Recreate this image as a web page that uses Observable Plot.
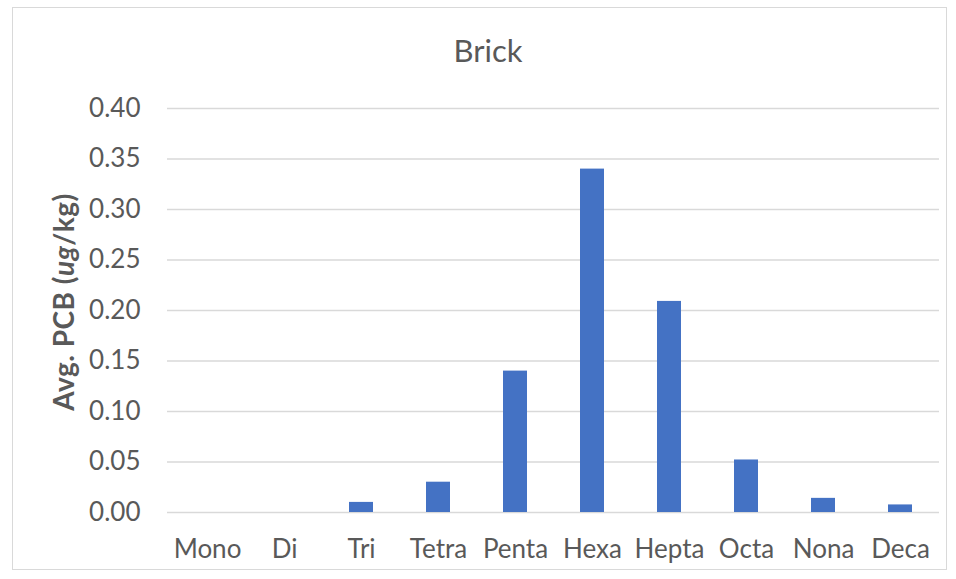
<!DOCTYPE html>
<html>
<head>
<meta charset="utf-8">
<script src="https://cdn.jsdelivr.net/npm/d3@7"></script>
<script src="https://cdn.jsdelivr.net/npm/@observablehq/plot@0.6"></script>
<style>
  html, body { margin: 0; padding: 0; background: #fff; }
  #wrap { position: relative; width: 956px; height: 579px; overflow: hidden; font-family: Lato, "Open Sans", sans-serif; }
  #frame { position: absolute; left: 12px; top: 7px; width: 935px; height: 563px; border: 1.5px solid #d9d9d9; box-sizing: border-box; }
  #title { position: absolute; left: 10px; width: 956px; top: 31px; text-align: center; font-size: 31px; color: #595959; line-height: 38px; }
  #chart { position: absolute; left: 0; top: 0; }
</style>
</head>
<body>
<div id="wrap">
  <div id="frame"></div>
  <div id="chart"></div>
  <div id="title">Brick</div>
</div>
<script>
const categories = ["Mono", "Di", "Tri", "Tetra", "Penta", "Hexa", "Hepta", "Octa", "Nona", "Deca"];
const values = [0, 0, 0.010, 0.030, 0.140, 0.340, 0.209, 0.052, 0.014, 0.0075];
const yTicks = [0, 0.05, 0.10, 0.15, 0.20, 0.25, 0.30, 0.35, 0.40];

const data = categories.map((c, i) => ({category: c, value: values[i]}));

const chart = Plot.plot({
  width: 956,
  height: 579,
  marginLeft: 167,
  marginRight: 17,
  marginTop: 108,
  marginBottom: 67,
  style: {fontFamily: "Lato, 'Open Sans', sans-serif", fontSize: "26px", color: "#595959", background: "transparent"},
  x: {domain: categories, paddingInner: 0.69, paddingOuter: 0.345, label: null, tickSize: 0, tickPadding: 27},
  y: {domain: [0, 0.40], ticks: yTicks, tickFormat: d3.format(".2f"), label: null, tickSize: 0, tickPadding: 27},
  marks: [
    Plot.gridY(yTicks, {stroke: "#d9d9d9", strokeOpacity: 1, strokeWidth: 1.5}),
    Plot.barY(data, {x: "category", y: "value", fill: "#4472C4"})
  ]
});
document.getElementById("chart").appendChild(chart);

// Y-axis title with italic units
const svg = d3.select(chart);
const lbl = svg.append("text")
  .attr("transform", "translate(74,302) rotate(-90)")
  .attr("text-anchor", "middle")
  .attr("fill", "#595959")
  .attr("font-weight", "bold")
  .attr("font-size", "28px")
  .attr("letter-spacing", "0.5px")
  .attr("font-family", "Lato, 'Open Sans', sans-serif");
lbl.append("tspan").text("Avg. PCB (");
lbl.append("tspan").attr("font-style", "italic").text("ug");
lbl.append("tspan").text("/kg)");
</script>
</body>
</html>
